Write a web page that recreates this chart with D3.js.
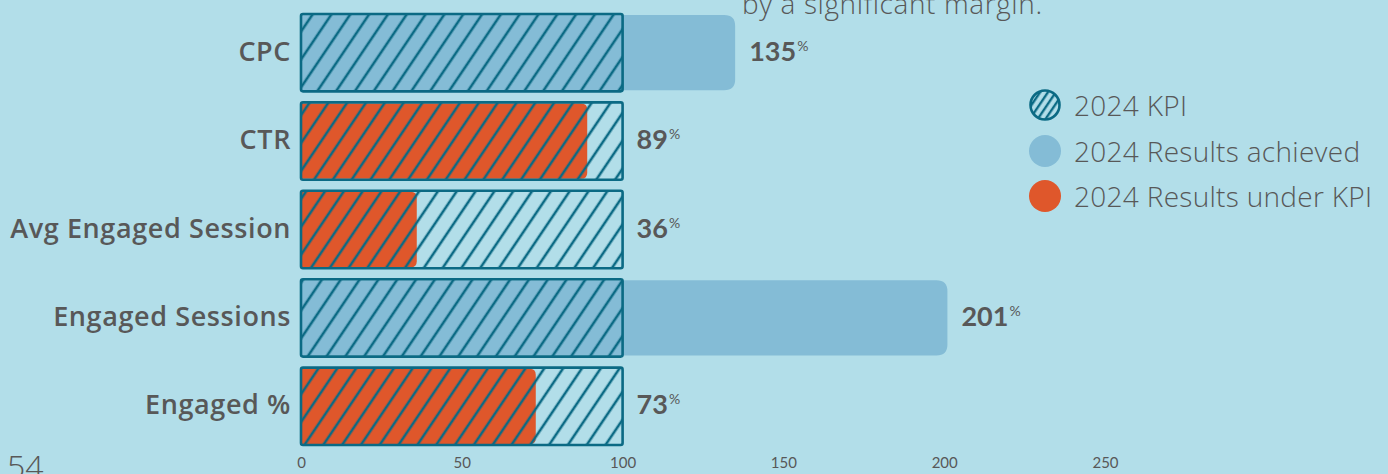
<!DOCTYPE html>
<html>
<head>
<meta charset="utf-8">
<script src="https://cdn.jsdelivr.net/npm/d3@7"></script>
<style>
  html, body { margin: 0; padding: 0; background: #b2dee9; }
  svg { display: block; }
</style>
</head>
<body>
<svg id="chart" width="1388" height="474"></svg>
<script>
// KPI attainment per metric, as a percentage of the 2024 target
const categories = ["CPC", "CTR", "Avg Engaged Session", "Engaged Sessions", "Engaged %"];
const kpiTarget = [100, 100, 100, 100, 100];
const resultPct = [135, 89, 36, 201, 73];
const tickValues = [0, 50, 100, 150, 200, 250];
const legendLabels = ["2024 KPI", "2024 Results achieved", "2024 Results under KPI"];

const COLORS = {
  bg: "#b2dee9",
  achieved: "#84bcd6",
  under: "#df572b",
  kpi: "#0b6a84",
  text: "#585858"
};
const FONT = "Lato, 'Open Sans', sans-serif";
const FONT_WIDE = "'Open Sans', Lato, sans-serif";

const svg = d3.select("#chart");
const W = 1388, H = 474;
svg.append("rect").attr("width", W).attr("height", H).attr("fill", COLORS.bg);

// hatch patterns: one for the KPI boxes, a finer one for the legend swatch
const defs = svg.append("defs");
function hatch(id, spacing, width) {
  const p = defs.append("pattern")
    .attr("id", id)
    .attr("patternUnits", "userSpaceOnUse")
    .attr("width", spacing).attr("height", spacing)
    .attr("patternTransform", "rotate(34)");
  p.append("line")
    .attr("x1", 2).attr("y1", -2).attr("x2", 2).attr("y2", spacing + 2)
    .attr("stroke", COLORS.kpi).attr("stroke-width", width);
}
hatch("hatch", 15.6, 2.6);
hatch("hatch-small", 6.5, 2.4);

const x = d3.scaleLinear().domain([0, 250]).range([301, 1105]);
const y = d3.scaleBand().domain(categories).range([14, 445]).paddingInner(0.125).paddingOuter(0);

const rows = categories.map((c, i) => ({ cat: c, kpi: kpiTarget[i], val: resultPct[i] }));

// bar with square left end and rounded right end
function rightRounded(x0, y0, w, h, r) {
  r = Math.min(r, w, h / 2);
  return `M${x0},${y0}H${x0 + w - r}Q${x0 + w},${y0} ${x0 + w},${y0 + r}` +
    `V${y0 + h - r}Q${x0 + w},${y0 + h} ${x0 + w - r},${y0 + h}H${x0}Z`;
}

const g = svg.append("g");

// result bars
g.selectAll("path.result").data(rows).join("path")
  .attr("class", "result")
  .attr("d", d => {
    const over = d.val >= d.kpi;
    return rightRounded(x(0) + 1, y(d.cat) + 1, x(d.val) - x(0) - 1, y.bandwidth() - 2, over ? 11 : 6);
  })
  .attr("fill", d => d.val >= d.kpi ? COLORS.achieved : COLORS.under);

// KPI boxes (hatched outline up to 100%)
g.selectAll("rect.kpi").data(rows).join("rect")
  .attr("class", "kpi")
  .attr("x", x(0))
  .attr("y", d => y(d.cat))
  .attr("width", d => x(d.kpi) - x(0))
  .attr("height", y.bandwidth())
  .attr("rx", 2)
  .attr("fill", "url(#hatch)")
  .attr("stroke", COLORS.kpi)
  .attr("stroke-width", 2.6);

// category labels
g.selectAll("text.cat").data(rows).join("text")
  .attr("class", "cat")
  .attr("x", 291)
  .attr("y", d => y(d.cat) + y.bandwidth() / 2 + 8)
  .attr("text-anchor", "end")
  .attr("font-family", FONT_WIDE)
  .attr("font-weight", 600)
  .attr("font-size", 27)
  .attr("letter-spacing", 0.6)
  .attr("fill", COLORS.text)
  .text(d => d.cat);

// value labels
const vl = g.selectAll("text.val").data(rows).join("text")
  .attr("class", "val")
  .attr("x", d => x(Math.max(d.val, d.kpi)) + 14)
  .attr("y", d => y(d.cat) + y.bandwidth() / 2 + 8)
  .attr("font-family", FONT)
  .attr("fill", COLORS.text);
vl.append("tspan").attr("font-weight", 700).attr("font-size", 27).text(d => d.val);
vl.append("tspan").attr("font-size", 14).attr("dy", -10).attr("dx", 1).text("%");

// x axis labels
const axis = d3.axisBottom(x).tickValues(tickValues).tickSize(0).tickPadding(0);
const ax = svg.append("g").attr("transform", "translate(0,457)").call(axis);
ax.select(".domain").remove();
ax.selectAll("text")
  .attr("font-family", FONT)
  .attr("font-size", 15)
  .attr("fill", COLORS.text);

// legend
const legend = svg.append("g").attr("transform", "translate(1045,0)");
const legendY = [105, 151, 196];
const legendFill = ["url(#hatch-small)", COLORS.achieved, COLORS.under];
legend.selectAll("circle").data(legendLabels).join("circle")
  .attr("cx", 0)
  .attr("cy", (d, i) => legendY[i])
  .attr("r", (d, i) => i === 0 ? 14.5 : 16)
  .attr("fill", (d, i) => legendFill[i])
  .attr("stroke", (d, i) => i === 0 ? COLORS.kpi : "none")
  .attr("stroke-width", 2.6);
legend.selectAll("text").data(legendLabels).join("text")
  .attr("x", 29)
  .attr("y", (d, i) => legendY[i] + 11)
  .attr("font-family", FONT_WIDE)
  .attr("font-weight", 300)
  .attr("font-size", 28)
  .attr("letter-spacing", 0.3)
  .attr("fill", COLORS.text)
  .text(d => d);

// page furniture: trailing caption line and page number
svg.append("text")
  .attr("x", 742).attr("y", 14)
  .attr("font-family", FONT_WIDE).attr("font-weight", 300).attr("font-size", 28)
  .attr("letter-spacing", 0.6)
  .attr("fill", COLORS.text)
  .text("by a significant margin.");
svg.append("text")
  .attr("x", 7).attr("y", 478)
  .attr("font-family", FONT_WIDE).attr("font-weight", 300).attr("font-size", 32)
  .attr("fill", COLORS.text)
  .text("54");
</script>
</body>
</html>
